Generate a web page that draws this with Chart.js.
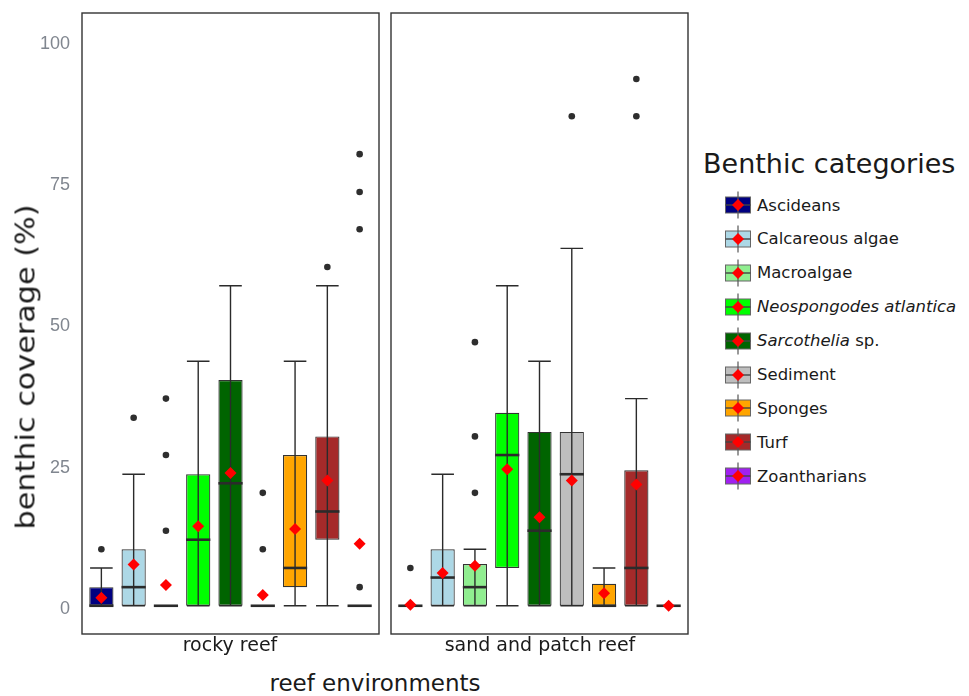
<!DOCTYPE html>
<html>
<head>
<meta charset="utf-8">
<script src="https://cdn.jsdelivr.net/npm/chart.js@4.4.0/dist/chart.umd.min.js"></script>
<style>
  body { margin:0; background:#fff; width:969px; height:696px; position:relative; overflow:hidden;
         font-family:"DejaVu Sans", Verdana, sans-serif; color:#1a1a1a; }
  canvas { position:absolute; top:0; }
  .lbl { position:absolute; line-height:1; white-space:nowrap; }
  .center { transform:translateX(-50%); }
</style>
</head>
<body>
<canvas id="rocky" width="382" height="640" style="left:0px"></canvas>
<canvas id="sand" width="306" height="640" style="left:386px"></canvas>

<div class="lbl" style="left:25px;top:367px;font-size:27px;transform:translate(-50%,-50%) rotate(-90deg) scaleX(1.12);">benthic coverage (%)</div>
<div class="lbl center" id="strip0" style="left:230px;top:635px;font-size:19px;"></div>
<div class="lbl center" id="strip1" style="left:540px;top:635px;font-size:19px;"></div>
<div class="lbl center" style="left:375px;top:672px;font-size:23px;">reef environments</div>
<div class="lbl" style="left:703px;top:150px;font-size:27px;">Benthic categories</div>
<div id="legend"></div>

<script>
// categories (fill colours follow the reference)
var categories = ["Ascideans", "Calcareous algae", "Macroalgae", "Neospongodes atlantica",
                  "Sarcothelia sp.", "Sediment", "Sponges", "Turf", "Zoantharians"];
var legendLabels = ["Ascideans", "Calcareous algae", "Macroalgae", "<i>Neospongodes atlantica</i>",
                    "<i>Sarcothelia</i> sp.", "Sediment", "Sponges", "Turf", "Zoantharians"];
var boxColors = ["#000080", "#add8e6", "#90ee90", "#00ff00", "#006400",
                 "#bebebe", "#ffa500", "#a52a2a", "#a020f0"];
var environments = ["rocky reef", "sand and patch reef"];
var yTicks = [0, 25, 50, 75, 100];

// rocky reef
var rockyQ1     = [0, 0, 0, 0, 0, 0, 3.3, 11.7, 0];
var rockyMedian = [0, 3.3, 0, 11.7, 21.7, 0, 6.7, 16.7, 0];
var rockyQ3     = [3.3, 10, 0, 23.3, 40, 0, 26.7, 30, 0];
var rockyLow    = [0, 0, 0, 0, 0, 0, 0, 0, 0];
var rockyHigh   = [6.7, 23.3, 0, 43.3, 56.7, 0, 43.3, 56.7, 0];
var rockyMean   = [1.4, 7.3, 3.7, 14.1, 23.5, 1.9, 13.6, 22.2, 11.0];
var rockyOutlierCat = [1, 2, 3, 3, 3, 6, 6, 8, 9, 9, 9, 9];
var rockyOutlierVal = [10, 33.3, 36.7, 26.7, 13.3, 20, 10, 60, 3.3, 66.7, 73.3, 80];

// sand and patch reef
var sandQ1     = [0, 0, 0, 6.7, 0, 0, 0, 0, 0];
var sandMedian = [0, 5, 3.3, 26.7, 13.3, 23.3, 0, 6.7, 0];
var sandQ3     = [0, 10, 7.4, 34.2, 30.8, 30.8, 3.9, 24, 0];
var sandLow    = [0, 0, 0, 0, 0, 0, 0, 0, 0];
var sandHigh   = [0, 23.3, 10, 56.7, 43.3, 63.3, 6.7, 36.7, 0];
var sandMean   = [0.2, 5.8, 7.1, 24.2, 15.7, 22.2, 2.2, 21.5, 0];
var sandOutlierCat = [1, 3, 3, 3, 6, 8, 8];
var sandOutlierVal = [6.7, 46.7, 30, 20, 86.7, 86.7, 93.3];

document.getElementById("strip0").textContent = environments[0];
document.getElementById("strip1").textContent = environments[1];

// draws medians, whiskers + caps on top of the boxes, and the panel frame
function boxExtras(median, low, high) {
  return {
    id: "boxExtras",
    afterDatasetDraw: function(chart, args) {
      if (args.meta.type !== "bar") return;
      var ctx = chart.ctx, x = chart.scales.x, y = chart.scales.y;
      var half = (x.getPixelForValue(1.375) - x.getPixelForValue(1));
      var cap = (x.getPixelForValue(1.35) - x.getPixelForValue(1));
      ctx.save();
      ctx.strokeStyle = "#2b2b2b";
      for (var i = 0; i < median.length; i++) {
        var cx = x.getPixelForValue(i + 1);
        var ym = y.getPixelForValue(median[i]);
        ctx.lineWidth = 2.6;
        ctx.beginPath(); ctx.moveTo(cx - half, ym); ctx.lineTo(cx + half, ym); ctx.stroke();
        var yl = y.getPixelForValue(low[i]), yh = y.getPixelForValue(high[i]);
        ctx.lineWidth = 1.4;
        ctx.beginPath();
        ctx.moveTo(cx, yl); ctx.lineTo(cx, yh);
        ctx.moveTo(cx - cap, yh); ctx.lineTo(cx + cap, yh);
        ctx.moveTo(cx - cap, yl); ctx.lineTo(cx + cap, yl);
        ctx.stroke();
      }
      ctx.restore();
    },
    afterDraw: function(chart) {
      var a = chart.chartArea, ctx = chart.ctx;
      ctx.save();
      ctx.strokeStyle = "#333";
      ctx.lineWidth = 1.4;
      ctx.strokeRect(a.left, a.top, a.right - a.left, a.bottom - a.top);
      ctx.restore();
    }
  };
}

function drawPanel(canvasId, q1, median, q3, low, high, mean, outCat, outVal, showY, pad) {
  var boxes = [], means = [], outliers = [];
  for (var i = 0; i < categories.length; i++) {
    boxes.push({x: i + 1, y: [q1[i], q3[i]]});
    means.push({x: i + 1, y: mean[i]});
  }
  for (var j = 0; j < outCat.length; j++) {
    outliers.push({x: outCat[j], y: outVal[j]});
  }
  new Chart(document.getElementById(canvasId), {
    type: "bar",
    data: {
      datasets: [
        {type: "scatter", data: means, pointStyle: "rectRot", pointRadius: 6,
         backgroundColor: "#ff0000", borderWidth: 0, order: 0},
        {type: "scatter", data: outliers, pointRadius: 3.3,
         backgroundColor: "#2e2e2e", borderWidth: 0, order: 1},
        {type: "bar", data: boxes, backgroundColor: boxColors, borderColor: "#333",
         borderWidth: 1.2, borderSkipped: false, barPercentage: 0.75,
         categoryPercentage: 1, order: 2}
      ]
    },
    options: {
      responsive: false,
      animation: false,
      events: [],
      layout: {padding: pad, autoPadding: false},
      plugins: {legend: {display: false}, tooltip: {enabled: false}},
      scales: {
        x: {
          type: "linear", display: false, offset: false, min: 0.4, max: 9.6,
          afterBuildTicks: function(s) {
            s.ticks = categories.map(function(c, k) { return {value: k + 1}; });
          }
        },
        y: {
          display: showY, min: -5, max: 105,
          afterBuildTicks: function(s) {
            s.ticks = yTicks.map(function(v) { return {value: v}; });
          },
          afterFit: function(s) {
            if (showY) s.width = 82;
            s.paddingTop = 0; s.paddingBottom = 0; s.paddingLeft = 0; s.paddingRight = 0;
          },
          grid: {display: false, drawTicks: false, tickLength: 0},
          border: {display: false},
          ticks: {padding: 12, labelOffset: 3, color: "#80868f",
                  font: {family: "Liberation Sans", size: 18}}
        }
      }
    },
    plugins: [boxExtras(median, low, high)]
  });
}

drawPanel("rocky", rockyQ1, rockyMedian, rockyQ3, rockyLow, rockyHigh, rockyMean,
          rockyOutlierCat, rockyOutlierVal, true, {top: 13, right: 3, bottom: 6, left: 0});
drawPanel("sand", sandQ1, sandMedian, sandQ3, sandLow, sandHigh, sandMean,
          sandOutlierCat, sandOutlierVal, false, {top: 13, right: 4, bottom: 6, left: 5});

// legend keys: small boxplot glyph with the mean diamond
var legend = document.getElementById("legend");
for (var k = 0; k < categories.length; k++) {
  var cy = 205 + k * 33.9;
  var key = '<svg width="28" height="34" style="position:absolute;left:724px;top:' + (cy - 17) + 'px">' +
    '<rect x="1.5" y="9" width="25" height="16" fill="' + boxColors[k] + '" stroke="#666" stroke-width="1"/>' +
    '<line x1="14" y1="3.5" x2="14" y2="30.5" stroke="#555" stroke-width="1.2"/>' +
    '<line x1="1.5" y1="17" x2="26.5" y2="17" stroke="#444" stroke-width="1.4"/>' +
    '<polygon points="14,11 20,17 14,23 8,17" fill="#ff0000"/></svg>';
  var txt = '<div class="lbl" style="left:757px;top:' + (cy - 7.5) + 'px;font-size:16.5px;">' +
    legendLabels[k] + '</div>';
  legend.insertAdjacentHTML("beforeend", key + txt);
}
</script>
</body>
</html>
